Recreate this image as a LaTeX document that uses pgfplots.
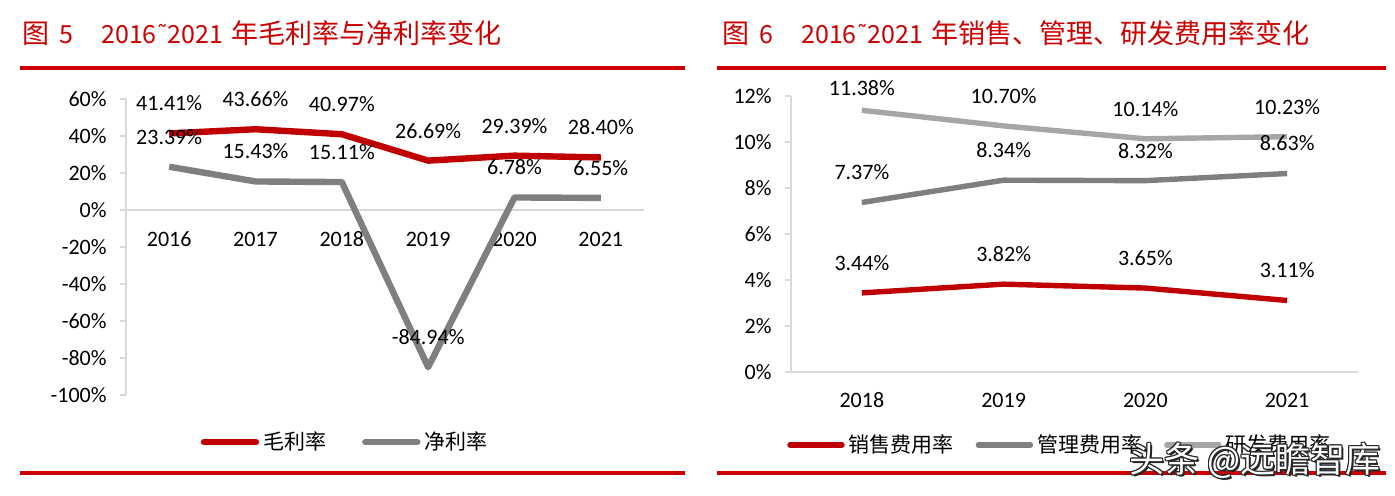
\documentclass[border=0pt]{standalone}
\usepackage{fontspec}
\setmainfont{Carlito}
\newfontfamily\cjk{Noto Sans CJK SC}
\newfontfamily\dejavu{DejaVu Sans}
\usepackage{pgfplots}
\usepackage{pgfplotstable}
\pgfplotsset{compat=1.18}

\definecolor{serred}{RGB}{192,0,0}
\definecolor{rulered}{RGB}{204,0,0}
\definecolor{midgray}{RGB}{127,127,127}
\definecolor{ltgray}{RGB}{166,166,166}
\definecolor{axisgray}{RGB}{217,217,217}

% 毛利率 / 净利率 (%)
\pgfplotstableread{
year gross net
2016 41.41 23.39
2017 43.66 15.43
2018 40.97 15.11
2019 26.69 -84.94
2020 29.39 6.78
2021 28.40 6.55
}\profit

% 销售 / 管理 / 研发费用率 (%), dy = label offset
\pgfplotstableread{
year sales admin rd dy
2018 3.44 7.37 11.38 11
2019 3.82 8.34 10.70 15
2020 3.65 8.32 10.14 15
2021 3.11 8.63 10.23 15
}\expense

\newcommand{\tld}{{\dejavu\fontsize{11}{13}\selectfont\raisebox{0.1em}{˜}}}
\newcommand{\ttl}[2]{{\cjk\fontsize{13.5}{15}\selectfont 图}\hspace{5pt}{\cjk\fontsize{12.5}{15}\selectfont #1}\hspace{14pt}{\cjk\fontsize{12.5}{15}\selectfont 2016}\tld{\cjk\fontsize{12.5}{15}\selectfont 2021}\hspace{4pt}{\cjk\fontsize{13.5}{15}\selectfont #2}}

\pgfplotsset{
  panel/.style={
    scale only axis, clip=false,
    anchor=south west,
    /pgf/number format/assume math mode=true,
    tick label style={font=\fontsize{11}{13}\selectfont},
    axis line style={axisgray, line width=0.75pt},
    major tick length=3pt, tick align=outside,
    ytick style={axisgray, line width=0.75pt},
    xtick style={draw=none},
    yticklabel={\pgfmathprintnumber{\tick}\%},
    yticklabel style={anchor=east, inner sep=0pt, xshift=-6.5pt},
    xticklabel style={anchor=center, inner sep=0pt, /pgf/number format/1000 sep={}},
    axis y line*=left,
    every axis plot/.append style={line join=round},
    legend style={draw=none, fill=none, anchor=center, legend columns=-1,
      font=\cjk\fontsize{10.5}{12}\selectfont, inner sep=0pt},
    legend image code/.code={\draw[#1, line cap=round] (0pt,0pt) -- (26pt,0pt);},
  },
  vlabel/.style={draw=none, no marks, forget plot,
    nodes near coords={\pgfmathprintnumber[fixed,fixed zerofill,precision=2]{\pgfplotspointmeta}\%},
    every node near coord/.style={anchor=center, inner sep=0pt, text=black,
      font=\fontsize{11}{13}\selectfont, yshift=15pt}},
}

\begin{document}
\begin{tikzpicture}
\path (0pt,0pt) rectangle (697.5pt,247.5pt);

% titles and rules
\node[anchor=west, inner sep=0pt, text=rulered] at (11pt,231pt) {\ttl{5}{年毛利率与净利率变化}};
\node[anchor=west, inner sep=0pt, text=rulered] at (361pt,231pt) {\ttl{6}{年销售、管理、研发费用率变化}};
\draw[rulered, line width=2pt] (10pt,213.5pt) -- (342.5pt,213.5pt);
\draw[rulered, line width=2pt] (358.5pt,213.5pt) -- (693pt,213.5pt);
\draw[rulered, line width=2pt] (10pt,11pt) -- (342.5pt,11pt);
\draw[rulered, line width=2pt] (358.5pt,11pt) -- (693pt,11pt);

% left panel
\begin{axis}[panel, at={(63pt,50pt)}, width=259pt, height=148pt,
  xmin=2015.5, xmax=2021.5, ymin=-100, ymax=60,
  axis x line*=middle,
  xtick={2016,...,2021}, ytick={-100,-80,...,60},
  xticklabel style={yshift=-11.5pt},
  legend style={at={(0.425,-0.159)}, /tikz/every even column/.append style={column sep=16pt}},
]
\addplot[serred, line width=3.2pt] table[x=year, y=gross] {\profit};
\addplot[midgray, line width=3.2pt] table[x=year, y=net] {\profit};
\addplot[vlabel] table[x=year, y=gross] {\profit};
\addplot[vlabel] table[x=year, y=net] {\profit};
\legend{毛利率, 净利率}
\end{axis}

% right panel
\begin{axis}[panel, at={(395.5pt,61.5pt)}, width=283.5pt, height=138pt,
  xmin=2017.5, xmax=2021.5, ymin=0, ymax=12,
  axis x line*=bottom,
  xtick={2018,...,2021}, ytick={0,2,...,12},
  xticklabel style={yshift=-11pt},
  legend style={at={(0.476,-0.264)}, /tikz/every even column/.append style={column sep=9pt}},
]
\addplot[serred, line width=2.7pt] table[x=year, y=sales] {\expense};
\addplot[midgray, line width=2.7pt] table[x=year, y=admin] {\expense};
\addplot[ltgray, line width=2.7pt] table[x=year, y=rd] {\expense};
\addplot[vlabel] table[x=year, y=sales] {\expense};
\addplot[vlabel] table[x=year, y=admin] {\expense};
\addplot[vlabel, visualization depends on={\thisrow{dy}\as\dy},
  every node near coord/.append style={yshift=\dy pt-15pt}] table[x=year, y=rd] {\expense};
\legend{销售费用率, 管理费用率, 研发费用率}
\end{axis}

% watermark
\foreach \dx/\dy in {-0.6/0,0.6/0,0/-0.6,0/0.6,-0.45/-0.45,0.45/0.45,-0.45/0.45,0.45/-0.45,0.9/-0.9}{
  \node[inner sep=0pt, text=black!85, font=\cjk\fontsize{17.5}{19}\selectfont]
    at ([xshift=\dx pt, yshift=\dy pt]627.5pt,17pt) {头条 @远瞻智库};
}
\node[inner sep=0pt, text=white, font=\cjk\fontsize{17.5}{19}\selectfont]
  at (627.5pt,17pt) {头条 @远瞻智库};
\end{tikzpicture}
\end{document}
